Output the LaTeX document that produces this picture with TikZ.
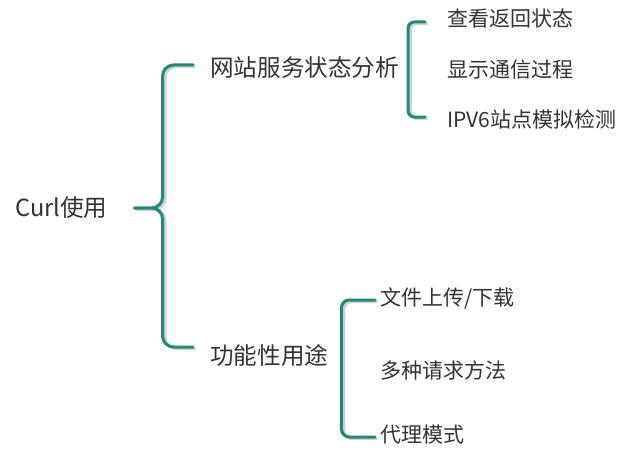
\documentclass[tikz,border=0pt]{standalone}
\usepackage{fontspec}
\setmainfont{Noto Sans CJK SC}
\usetikzlibrary{calc}
\definecolor{brk}{HTML}{1E8A7C}
\definecolor{txt}{HTML}{333333}
\tikzset{
  lbl/.style={anchor=west, inner sep=0pt, text=txt},
  mainlbl/.style={lbl, font=\fontsize{23.6}{26}\selectfont},
  leaflbl/.style={lbl, font=\fontsize{21}{24}\selectfont},
  brace/.style={draw=brk, line width=3pt, line cap=round,
    preaction={draw=black!18, line width=3pt,
      transform canvas={xshift=2.5pt,yshift=-1.5pt}}}
}
\begin{document}
\begin{tikzpicture}[x=1pt,y=-1pt]
\useasboundingbox (0,0) rectangle (627,460);
% nodes
\node[mainlbl] (root) at (15,208) {Curl使用};
\node[mainlbl] (a) at (210,68) {网站服务状态分析};
\node[mainlbl] (b) at (210,355) {功能性用途};
\node[leaflbl] (a1) at (447,19) {查看返回状态};
\node[leaflbl] (a2) at (447,70) {显示通信过程};
\node[leaflbl] (a3) at (447,119) {IPV6站点模拟检测};
\node[leaflbl] (b1) at (380,298) {文件上传/下载};
\node[leaflbl] (b2) at (380,370) {多种请求方法};
\node[leaflbl] (b3) at (380,435) {代理模式};
% root brace
\coordinate (r0) at ($(root.east)+(27,0)$);
\coordinate (rx) at ($(root.east)+(55,0)$);
\coordinate (ra) at ($(a.west)+(-17,-3)$);
\coordinate (rb) at ($(b.west)+(-17,-8)$);
\draw[brace, rounded corners=11pt] (ra) -| (rx |- r0) -- (r0);
\draw[brace, rounded corners=11pt] (rb) -| (rx |- r0) -- (r0);
% brace a
\coordinate (ax) at ($(a.east)+(9,0)$);
\coordinate (a1e) at ($(a1.west)+(-22,3)$);
\coordinate (a3e) at ($(a3.west)+(-22,-2)$);
\draw[brace, rounded corners=6pt] (a1e) -| (ax |- a3e) -- (a3e);
% brace b
\coordinate (bx) at ($(b.east)+(13,0)$);
\coordinate (b1e) at ($(b1.west)+(-5,2)$);
\coordinate (b3e) at ($(b3.west)+(-5,2)$);
\draw[brace, rounded corners=8pt] (b1e) -| (bx |- b3e) -- (b3e);
\end{tikzpicture}
\end{document}
